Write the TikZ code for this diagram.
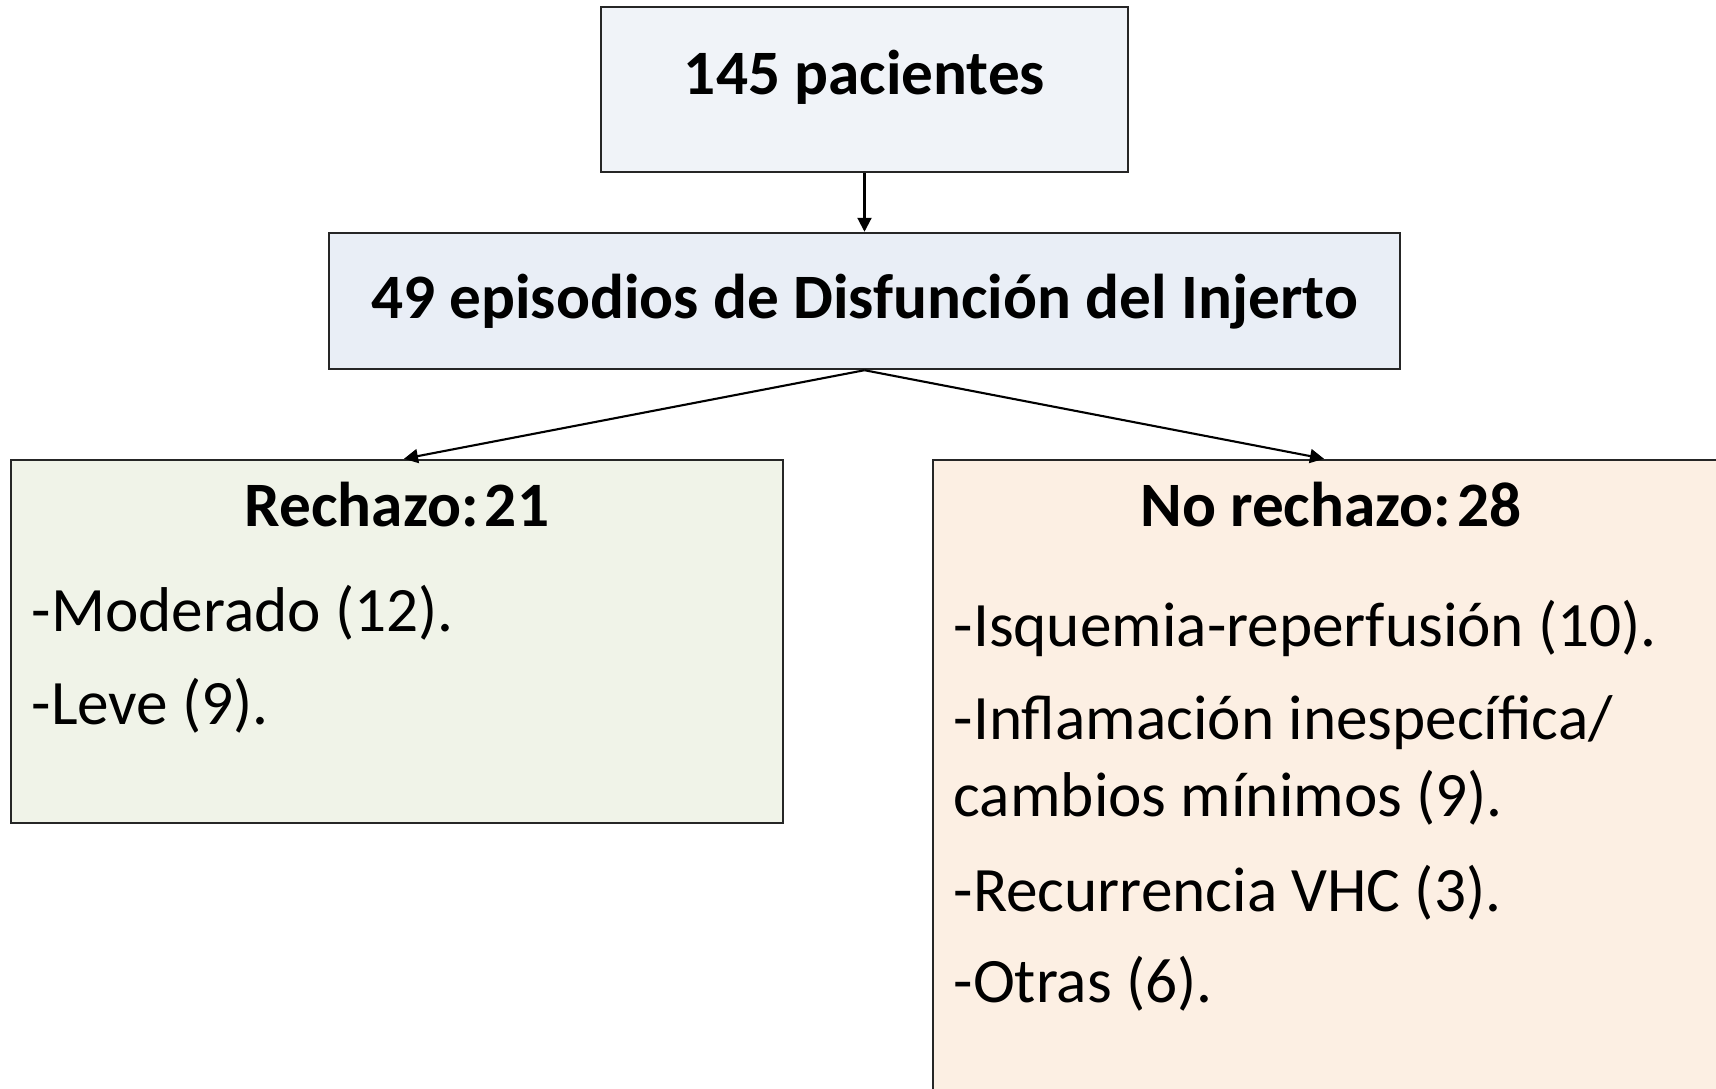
\documentclass[tikz,border=0pt]{standalone}
\usepackage{fontspec}
\setmainfont{Carlito}
\usetikzlibrary{arrows.meta}
\definecolor{pacfill}{RGB}{240,243,248}
\definecolor{disffill}{RGB}{233,238,246}
\definecolor{rechfill}{RGB}{240,243,232}
\definecolor{norechfill}{RGB}{252,239,227}
\tikzset{
  caja/.style={draw=black!85,line width=0.7pt,inner sep=0pt},
  texto/.style={inner sep=0pt,font=\fontsize{18}{21.6}\selectfont},
  flecha/.style={-{Triangle[length=0.14cm,width=0.14cm]},line width=0.6pt}
}
\begin{document}
\begin{tikzpicture}
\useasboundingbox (0,0) rectangle (17.16,-10.89);
\clip (0,0) rectangle (17.16,-10.89);
\fill[white] (0,0) rectangle (17.16,-10.89);
% cajas
\node[caja,fill=pacfill,minimum width=5.27cm,minimum height=1.65cm] (pac) at (8.645,-0.895) {};
\node[caja,fill=disffill,minimum width=10.71cm,minimum height=1.36cm] (disf) at (8.645,-3.01) {};
\node[caja,fill=rechfill,minimum width=7.72cm,minimum height=3.63cm] (rech) at (3.97,-6.415) {};
\node[caja,fill=norechfill,minimum width=7.96cm,minimum height=6.6cm] (norech) at (13.31,-7.90) {};
% flechas
\draw[flecha] (pac.south) -- (disf.north);
\draw[flecha] (disf.south) -- ([xshift=0.07cm]rech.north);
\draw[flecha] (disf.south) -- ([xshift=-0.07cm]norech.north);
% textos
\node[texto,anchor=base] (pactxt) at (8.645,-0.95) {\bfseries 145 pacientes};
\node[texto,anchor=base] (disftxt) at (8.645,-3.19) {\bfseries 49 episodios de Disfunción del Injerto};
\node[texto,anchor=base] (rechtit) at (3.97,-5.27) {\bfseries Rechazo:\hspace{0.1em}21};
\node[texto,anchor=base west] (moder) at (0.31,-6.32) {-Moderado (12).};
\node[texto,anchor=base west] (leve) at (0.31,-7.25) {-Leve (9).};
\node[texto,anchor=base] (norechtit) at (13.31,-5.27) {\bfseries No rechazo:\hspace{0.1em}28};
\node[texto,anchor=base west] (isq) at (9.53,-6.47) {-Isquemia-reperfusión (10).};
\node[texto,anchor=base west] (infl) at (9.53,-7.40) {-Inflamación inespecífica/};
\node[texto,anchor=base west] (camb) at (9.53,-8.17) {cambios mínimos (9).};
\node[texto,anchor=base west] (vhc) at (9.53,-9.12) {-Recurrencia VHC (3).};
\node[texto,anchor=base west] (otras) at (9.53,-10.03) {-Otras (6).};
\end{tikzpicture}
\end{document}
